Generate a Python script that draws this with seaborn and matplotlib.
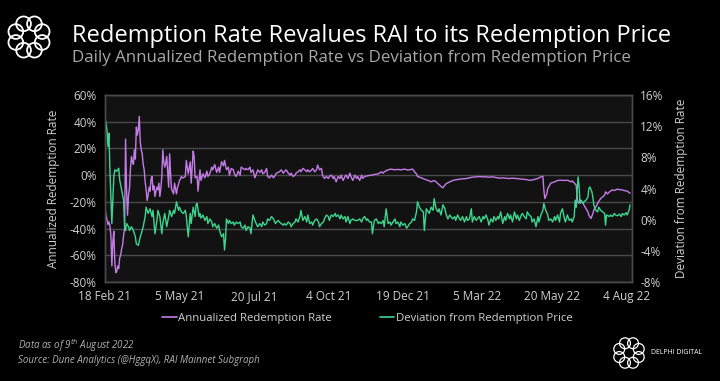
import pandas as pd
import matplotlib.pyplot as plt
import matplotlib.dates as mdates
from matplotlib.lines import Line2D
from matplotlib.patches import Circle
import numpy as np
import seaborn as sns

# Annualized redemption rate (%), days since 18 Feb 2021
rate_day = [0, 1, 2, 3, 4, 5, 6, 7, 8, 9, 10, 11, 12, 13, 14, 15, 16, 17, 18, 19,
            20, 21, 22, 23, 24, 25, 26, 27, 28, 29, 30, 31, 32, 33, 34, 35, 36, 37, 38, 39,
            40, 41, 42, 43, 44, 45, 46, 47, 48, 49, 50, 51, 52, 53, 54, 55, 56, 57, 58, 59,
            60, 61, 62, 63, 64, 65, 66, 67, 68, 69, 70, 71, 72, 73, 74, 75, 76, 77, 78, 79, 80,
            82, 83, 85, 87, 88, 90, 91, 92, 94, 95, 97, 98, 100, 102, 104, 105, 107, 109, 110, 112,
            114, 116, 117, 119, 121, 122, 124, 126, 127, 129, 131, 132, 134, 136, 138, 139, 141, 143, 144, 146,
            148, 149, 151, 153, 155, 156, 158, 160, 161, 163, 165, 166, 168, 170, 172,
            173, 175, 178, 180, 182, 183, 185, 187, 189, 190, 192, 194, 195, 197, 199, 200, 202, 204, 206, 207,
            209, 211, 212, 214, 216, 217, 219, 221, 222, 224, 226, 228, 229, 231, 233, 234, 236, 238, 240, 241,
            243, 245, 246, 248, 250, 251, 253, 255,
            257, 258, 260, 262, 263, 265, 268, 272, 275, 279, 282, 284, 285, 289, 292, 296, 299, 302, 306, 309,
            313, 314, 316, 318, 319, 323, 326, 330, 333, 336, 338, 340, 341, 343, 345, 347,
            348, 352, 355, 358, 362, 365, 369, 372, 375, 379, 382, 386, 389, 392, 396, 399, 403, 406, 409, 413,
            416, 420, 423, 426, 430, 433,
            435, 438, 442, 443, 445, 447, 448, 449, 451, 452, 454, 455, 459, 462, 465, 469, 472, 476, 477, 479,
            481, 482, 483, 485, 488, 489, 491, 493, 494, 496, 498, 499, 501, 503, 506, 510, 511, 513, 515, 516,
            518, 520, 523, 527, 530, 533, 536]
rate_pct = [-24, -30, -33, -37, -35, -38, -45, -68, -50, -42, -65, -73, -72, -68, -70, -62, -60, -55, -52, -45,
            -40, 27, -10, -30, -15, -10, 5, 14, 10, 8, 19, 12, 36, 30, 34, 44, 25, 19, 16, 8,
            4, -5, -11, -19, -15, -9, -12, -3, -1, -11, -8, -16, -12, -9, -11, -6, -16, -10, -1, 19,
            10, 6, 9, 14, 2, -9, 16, 0, -11, -12, -14, -6, -10, -14, -9, -7, -4, -3, -1, -2, -2,
            -1, 11, 1, 10, -6, 18, 14, -2, -1, -12, 4, -4, 1, -2, 3, -1, 1, 6, 4, 8,
            2, 6, 2, 10, 7, 11, 4, 6, 0, 5, 4, 1, -1, 3, 0, 6, 5, 4, 5, 4,
            6, 2, 4, -2, 2, 4, 2, 4, 1, 2, 5, -1, -2, 0, -2,
            -1, 1.5, 2.5, 4, 1.5, 2.5, 4, 1.5, 0, 1.5, -1, 0, 1.5, 2.5, 4, 2.5, 5, 4, 2.5, 4,
            2.5, 4, 5, 2.5, 4, 7.5, 4, 5, 0, -2.5, -1, -2.5, -1, 0, -2.5, -1, -5, -1, -2.5, 0,
            -4, -1, 0, -2.5, 1.5, -1, -4, 0,
            -2.5, -1, -4, 0, -2.5, -1, -0.5, 0, 0.5, 1, 2.5, 1.5, 2.5, 4, 4.5, 4, 4.3, 4, 4.5, 3.8,
            4.3, 4.5, 2.5, 0.8, -1, -2, -3, -4, -5, -4, -5, -6.5, -7, -8.5, -9.5, -7.5,
            -6.5, -5, -4, -3.5, -3, -2.8, -2.5, -2, -1.5, -1.3, -1, -1.3, -1.3, -1.5, -1.3, -1.8, -2.3, -2, -2.3, -2.5,
            -2.3, -2.5, -2.8, -3, -3.3, -3.8,
            -3.8, -3.3, -2.5, -2, -1.3, -0.8, -11, -17.5, -14, -10, -7.5, -6, -5, -4, -3.8, -4, -3.8, -5, -4.3, -5.8,
            -7.5, -16, -21, -19, -21, -22.5, -25, -27.5, -30, -32.5, -29, -26, -24, -21, -17.5, -15, -12.5, -14, -12.5, -12,
            -11, -11.5, -10.5, -11, -11.5, -12, -13.5]

# Deviation of market price from redemption price (%), same day convention
dev_day = [0, 2, 3, 4, 5, 6, 7, 8, 9, 10, 12, 14, 15, 17, 19, 20, 21, 22, 24, 25,
           27, 29, 31, 32, 34, 36, 37, 39, 41, 42, 44, 46, 48, 49, 51, 53, 54, 56, 58, 59,
           61, 63, 65, 66, 68, 70, 71, 73, 75, 76, 78, 80, 82, 83, 85,
           87, 88, 90, 92, 93, 94, 96, 97, 98, 100, 102, 104, 105, 107, 109, 110, 112, 114, 116, 117,
           119, 121, 122, 123, 124, 126, 127, 129, 131, 132, 134, 136, 138, 139, 141, 143, 144, 146, 148, 149,
           151, 153, 155, 156, 158, 160, 161, 163, 165, 166, 168, 170, 172,
           174, 175, 177, 178, 180, 182, 183, 185, 187, 189, 190, 192, 194, 195, 197, 199, 200, 202, 204, 206,
           207, 209, 211, 212, 214, 216, 218, 219, 221, 223, 224, 226, 228, 229, 231, 233, 235, 236, 238, 240,
           241, 243, 245, 246, 248, 250, 251, 253, 255,
           258, 260, 262, 263, 265, 267, 268, 270, 272, 273, 275, 277, 279, 280, 282, 284, 285, 287, 289, 291,
           292, 294, 296, 297, 299, 301, 302, 304, 306, 308, 309, 311, 313, 314, 316, 318, 319, 321, 323, 325,
           326, 328, 330, 331, 333, 335, 336, 338, 340, 341, 343, 345, 347,
           348, 350, 352, 353, 355, 357, 358, 360, 362, 363, 365, 367, 369, 370, 372, 374, 375, 377, 379, 380,
           382, 384, 386, 387, 389, 391, 392, 394, 396, 397, 399, 401, 402, 404, 406, 408, 409, 411, 413, 414,
           416, 418, 420, 421, 423, 425, 426, 428, 430, 431, 433,
           435, 436, 438, 440, 442, 443, 445, 447, 448, 449, 450, 452, 453, 455, 457, 459, 460, 462, 464, 465,
           467, 469, 470, 472, 474, 476, 477, 479, 480, 481, 482, 483, 484, 485, 486, 488, 489, 491, 493, 494,
           495, 497, 498, 499, 501, 503, 504, 506, 508, 510, 511, 512, 515, 516, 518, 520, 521, 523, 525, 527,
           528, 530, 532, 533, 535, 536]
dev_pct = [13.2, 11.5, 9.4, 11.1, 6.4, 2.9, -0.5, 2.5, 5.5, 6.4, 6.2, 6.6, 5.1, 3.8, 2.5, -0.9, -1.4, -0.5, -0.9, -1.4,
           -0.9, -1.4, -2.2, -3.1, -3.3, -2.2, -1.8, -0.9, 0.4, 1.6, 0.8, 1.4, 0.4, 1.2, -1.8, -0.1, 1.2, 0.4, -1.8, -0.5,
           0.8, -0.9, 0.4, 1.2, 0.4, 1.2, 0.8, 2.3, 1.2, 1.6, 1.0, 0.8, 1.2, 0.4, -2.2,
           0.8, -0.5, 1.6, 0.4, 1.9, 2.1, 0.4, 0.8, 0.2, 0.6, -0.1, 0.4, -0.5, 0.1, -0.3, -0.9, -0.5, -1.1, -0.7, -1.4,
           -2.2, -1.8, -3.9, -2.6, 0.1, -0.5, -0.1, -0.5, -0.3, -0.7, -0.3, -0.5, -0.3, -0.9, -1.1, -0.7, -1.4, -0.9, -1.1, -1.8,
           0.6, -0.1, -0.7, -0.9, -0.5, -0.9, -0.3, -0.7, -0.5, 0.1, -0.1, 0.4, 0.1,
           -0.5, -0.3, -0.1, -0.3, -0.5, -0.7, -0.5, -0.7, -0.3, -0.5, -0.9, -0.5, -0.3, 0.1, -0.3, 0.4, 1.2, -0.1, 0.4, -0.3,
           0.6, -0.5, -0.3, -0.7, -0.1, 0.1, -0.3, -0.9, -0.5, -0.3, 0.1, 0.6, 0.4, -0.1, 0.6, 0.4, 0.8, 0.4, 0.6, 0.1,
           0.6, 0.1, 0.4, -0.3, 0.4, -0.5, -0.1, 0.1, -0.1,
           -0.1, 0.1, -0.3, 0.1, 0.4, -0.1, 0.1, -0.3, -0.3, -1.8, -0.1, 0.1, -0.5, -0.3, -0.5, -0.1, -0.9, 1.4, -0.5, -0.3,
           -0.7, -0.3, 0.1, -0.5, -0.3, -0.9, -0.3, -0.7, -0.5, -1.1, -0.9, -0.5, -0.3, 0.1, -0.1, 1.0, 2.3, 1.6, 1.2, 1.0,
           -1.4, 1.4, 1.0, 0.8, 1.6, 1.2, 2.7, 1.4, 1.0, 1.4, 0.6, 1.9, 1.4,
           0.8, 0.1, 0.6, 0.4, 0.1, 0.4, -0.1, 0.6, 0.1, -0.1, 0.4, -0.3, 0.4, -0.1, 0.1, 1.4, -0.3, 0.4, -0.1, 0.1,
           0.4, -0.3, 0.4, 0.1, 0.6, -0.1, -0.7, 0.1, -0.3, 0.4, -0.1, 0.4, 0.1, 1.0, -0.5, 0.4, -0.1, 0.8, 0.1, 0.6,
           -0.3, 1.0, 0.1, 0.6, -0.1, 0.6, 0.8, 0.4, 0.1, 1.0, 0.6,
           0.4, -0.3, 0.1, -0.9, 0.4, -0.3, 0.6, 1.2, 2.1, 1.6, 1.2, 0.6, -0.1, 0.1, -0.3, 0.4, -0.1, 0.6, -0.3, 0.8,
           1.4, 0.1, -0.3, 0.6, -0.1, 0.1, -0.3, 0.4, 2.5, 1.6, 3.8, 5.5, 4.2, 2.1, 2.5, 2.1, 2.3, 2.5, 2.9, 4.0,
           4.2, 3.6, 2.9, 1.9, 1.2, 1.0, 1.6, 1.2, 1.0, 0.8, -0.7, 0.6, 0.4, 0.6, 0.4, 0.8, 0.6, 0.5, 0.7, 0.4,
           0.8, 0.6, 0.9, 0.6, 1.2, 1.9]

start = pd.Timestamp('2021-02-18')
rate_df = pd.DataFrame({'date': start + pd.to_timedelta(rate_day, unit='D'), 'value': rate_pct})
dev_df = pd.DataFrame({'date': start + pd.to_timedelta(dev_day, unit='D'), 'value': dev_pct})

purple = '#c57ce8'
green = '#3dd690'
txt = '#d0d0d0'
gridc = '#4a4a4a'

sns.set_style('dark')
plt.rcParams['font.family'] = ['Open Sans', 'DejaVu Sans']

fig = plt.figure(figsize=(7.2, 3.81), dpi=100, facecolor='black')
ax = fig.add_axes([105 / 720, 1 - 282 / 381, 527 / 720, 187 / 381])
ax.set_facecolor('#121212')
ax2 = ax.twinx()

sns.lineplot(data=rate_df, x='date', y='value', ax=ax, color=purple, linewidth=1)
sns.lineplot(data=dev_df, x='date', y='value', ax=ax2, color=green, linewidth=1)

ax.set_xlim(start, start + pd.Timedelta(days=538))
ax.set_ylim(-80, 60)
ax.set_yticks(range(-80, 61, 20))
ax.set_yticklabels([f'{v}%' for v in range(-80, 61, 20)])
ax2.set_ylim(-8, 16)
ax2.set_yticks(range(-8, 17, 4))
ax2.set_yticklabels([f'{v}%' for v in range(-8, 17, 4)])

xt = [start + pd.Timedelta(days=76 * k) for k in range(8)]
ax.set_xticks(xt)
ax.xaxis.set_major_formatter(mdates.DateFormatter('%-d %b %y'))

ax.grid(axis='y', color=gridc, linewidth=1)
ax.grid(axis='x', visible=False)
ax2.grid(False)
for a in (ax, ax2):
    a.tick_params(colors=txt, labelsize=8.5, length=0, pad=6)
    for s in a.spines.values():
        s.set_color(gridc)
        s.set_linewidth(1)
ax.set_xlabel('')
ax.set_ylabel('Annualized Redemption Rate', color=txt, fontsize=8.5, labelpad=7)
ax2.set_ylabel('Deviation from Redemption Rate', color=txt, fontsize=8.5, labelpad=8)

handles = [Line2D([0], [0], color=purple, lw=1.2), Line2D([0], [0], color=green, lw=1.2)]
fig.legend(handles, ['Annualized Redemption Rate', 'Deviation from Redemption Price'],
           loc='center', bbox_to_anchor=(0.51, 1 - 318 / 381), ncol=2, frameon=False,
           handlelength=1.3, handletextpad=0.1, columnspacing=4.2, labelcolor=txt, fontsize=8.2)

fig.text(72 / 720, 1 - 36 / 381, 'Redemption Rate Revalues RAI to its Redemption Price',
         color='white', fontsize=17, va='center', ha='left')
fig.text(72 / 720, 1 - 58 / 381, 'Daily Annualized Redemption Rate vs Deviation from Redemption Price',
         color='#a8a8a8', fontsize=12.2, va='center', ha='left')

fig.text(18 / 720, 1 - 346 / 381, r'Data as of 9$^{th}$ August 2022', color='#b0b0b0',
         fontsize=7, style='italic', va='center')
fig.text(18 / 720, 1 - 361 / 381, 'Source: Dune Analytics (@HggqX), RAI Mainnet Subgraph',
         color='#b0b0b0', fontsize=7, style='italic', va='center')
fig.text(651 / 720, 1 - 353 / 381, 'DELPHI DIGITAL', color='white', fontsize=5,
         va='center', ha='left')


def draw_logo(rect, lw):
    la = fig.add_axes(rect)
    la.set_xlim(-1, 1)
    la.set_ylim(-1, 1)
    la.set_aspect('equal')
    la.axis('off')
    for k in range(8):
        ang = np.pi / 8 + k * np.pi / 4
        la.add_patch(Circle((0.62 * np.cos(ang), 0.62 * np.sin(ang)), 0.32,
                            fill=False, edgecolor='white', lw=lw))


draw_logo([6 / 720, 1 - 60 / 381, 46 / 720, 46 / 381], 1.3)
draw_logo([612 / 720, 1 - 370 / 381, 34 / 720, 34 / 381], 0.9)

fig.savefig('out.png', dpi=100, facecolor='black')
